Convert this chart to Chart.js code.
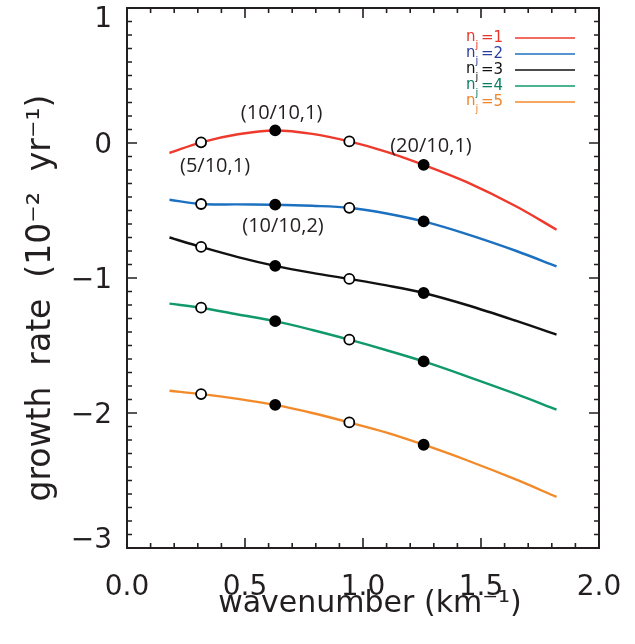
<!DOCTYPE html>
<html>
<head>
<meta charset="utf-8">
<script src="https://cdn.jsdelivr.net/npm/chart.js@4"></script>
<style>
  body { margin: 0; background: #fff; }
  canvas { display: block; }
</style>
</head>
<body>
<canvas id="myChart" width="635" height="644"></canvas>
<script>
// wavenumber samples (km^-1)
var wavenumber = [0.18, 0.314, 0.47, 0.628, 0.785, 0.942, 1.10, 1.257, 1.44, 1.65, 1.82];

// growth rate (10^-2 yr^-1) for each n_j
var growthN1 = [-0.074, 0.005, 0.065, 0.093, 0.068, 0.012, -0.065, -0.162, -0.29, -0.47, -0.642];
var growthN2 = [-0.42, -0.452, -0.455, -0.457, -0.465, -0.48, -0.522, -0.581, -0.675, -0.80, -0.914];
var growthN3 = [-0.70, -0.77, -0.845, -0.91, -0.962, -1.007, -1.055, -1.111, -1.20, -1.318, -1.42];
var growthN4 = [-1.19, -1.22, -1.27, -1.32, -1.385, -1.457, -1.535, -1.618, -1.728, -1.86, -1.975];
var growthN5 = [-1.835, -1.86, -1.895, -1.94, -2.0, -2.07, -2.145, -2.235, -2.35, -2.494, -2.622];

var seriesNames = ['n=1', 'n=2', 'n=3', 'n=4', 'n=5'];
var legendDigits = ['1', '2', '3', '4', '5'];

// marker wavenumbers
var openMarkers = [0.314, 0.942];
var filledMarkers = [0.628, 1.257];

// annotations
var noteLabels = ['(5/10,1)', '(10/10,1)', '(10/10,2)', '(20/10,1)'];
var noteX = [0.373, 0.655, 0.661, 1.288];
var noteY = [-0.17, 0.222, -0.618, -0.027];

var xTicks = [0.0, 0.5, 1.0, 1.5, 2.0];
var yTicks = [-3, -2, -1, 0, 1];

var xTitle = 'wavenumber (km\u207B\u00B9)';
var yTitle = 'growth  rate  (10\u207B\u00B2  yr\u207B\u00B9)';

var lineColors = ['#ee3a2c', '#1c70c0', '#111111', '#10996b', '#f28a2a'];
var legendTextColors = ['#e8352b', '#2b3f9c', '#111111', '#0b7f64', '#f0862a'];
var axisColor = '#231f20';

function isNear(list, v) {
    for (var i = 0; i < list.length; i++) {
        if (Math.abs(list[i] - v) < 0.005) return true;
    }
    return false;
}

function toPoints(values) {
    return wavenumber.map(function (k, i) { return { x: k, y: values[i] }; });
}

var allSeries = [growthN1, growthN2, growthN3, growthN4, growthN5];

var datasets = allSeries.map(function (values, i) {
    return {
        label: seriesNames[i],
        data: toPoints(values),
        borderColor: lineColors[i],
        borderWidth: 2.4,
        tension: 0.35,
        pointRadius: function (c) {
            var x = c.raw ? c.raw.x : 0;
            return (isNear(openMarkers, x) || isNear(filledMarkers, x)) ? 5 : 0;
        },
        pointBorderColor: '#000',
        pointBorderWidth: 1.8,
        pointBackgroundColor: function (c) {
            var x = c.raw ? c.raw.x : 0;
            return isNear(filledMarkers, x) ? '#000' : '#fff';
        },
        fill: false
    };
});

function yLabel(v) {
    return v < 0 ? '\u2212' + Math.abs(v) : String(v);
}

// frame with inward ticks, y labels, titles, notes and legend
var framePlugin = {
    id: 'frame',
    afterDraw: function (chart) {
        var ctx = chart.ctx;
        var a = chart.chartArea;
        var xs = chart.scales.x;
        var ys = chart.scales.y;
        ctx.save();
        ctx.strokeStyle = axisColor;
        ctx.lineWidth = 2;
        ctx.strokeRect(a.left, a.top, a.right - a.left, a.bottom - a.top);
        ctx.lineWidth = 1.6;
        ctx.beginPath();
        for (var i = 0; i <= 20; i++) {
            var px = xs.getPixelForValue(i / 10);
            var len = (i % 5 === 0) ? 10 : 5;
            ctx.moveTo(px, a.bottom); ctx.lineTo(px, a.bottom - len);
            ctx.moveTo(px, a.top); ctx.lineTo(px, a.top + len);
        }
        for (var j = -30; j <= 10; j++) {
            var py = ys.getPixelForValue(j / 10);
            var l2 = (j % 10 === 0) ? 10 : 5;
            ctx.moveTo(a.left, py); ctx.lineTo(a.left + l2, py);
            ctx.moveTo(a.right, py); ctx.lineTo(a.right - l2, py);
        }
        ctx.stroke();

        // y tick labels (kept inside the frame height like the original)
        ctx.fillStyle = axisColor;
        ctx.font = '28px "DejaVu Sans"';
        ctx.textAlign = 'right';
        ctx.textBaseline = 'middle';
        yTicks.forEach(function (v) {
            var ty = ys.getPixelForValue(v) + 3;
            ty = Math.min(Math.max(ty, a.top + 12), a.bottom - 7);
            ctx.fillText(yLabel(v), a.left - 15, ty);
        });

        // axis titles
        ctx.textAlign = 'center';
        ctx.textBaseline = 'alphabetic';
        ctx.font = '30px "DejaVu Sans"';
        ctx.fillText(xTitle, (a.left + a.right) / 2 + 7, 612);
        ctx.save();
        ctx.translate(50, (a.top + a.bottom) / 2 + 20);
        ctx.rotate(-Math.PI / 2);
        ctx.font = '33px "DejaVu Sans"';
        ctx.fillText(yTitle, 0, 0);
        ctx.restore();

        // point annotations
        ctx.fillStyle = '#231f20';
        ctx.font = '20px "Open Sans"';
        ctx.textAlign = 'center';
        ctx.textBaseline = 'middle';
        noteLabels.forEach(function (t, k) {
            ctx.fillText(t, xs.getPixelForValue(noteX[k]), ys.getPixelForValue(noteY[k]));
        });

        // legend, top right
        ctx.textAlign = 'left';
        for (var s = 0; s < seriesNames.length; s++) {
            var ly = 38 + s * 16;
            ctx.fillStyle = legendTextColors[s];
            ctx.font = '15px "DejaVu Sans"';
            ctx.fillText('n', 466, ly - 1);
            ctx.font = '10px "DejaVu Sans"';
            ctx.fillText('j', 475.5, ly + 7);
            ctx.font = '15px "DejaVu Sans"';
            ctx.fillText('=' + legendDigits[s], 481, ly);
            ctx.strokeStyle = lineColors[s];
            ctx.lineWidth = 1.5;
            ctx.beginPath();
            ctx.moveTo(515, ly);
            ctx.lineTo(575, ly);
            ctx.stroke();
        }
        ctx.restore();
    }
};

document.addEventListener('DOMContentLoaded', function () {
    var ctx = document.getElementById('myChart').getContext('2d');

    var myChart = new Chart(ctx, {
        type: 'line',
        data: { datasets: datasets },
        options: {
            responsive: false,
            animation: false,
            devicePixelRatio: 1,
            layout: { padding: { top: 8, right: 36, bottom: 0, left: 0 } },
            plugins: {
                legend: { display: false },
                tooltip: { enabled: false }
            },
            scales: {
                x: {
                    type: 'linear',
                    min: 0,
                    max: 2,
                    afterBuildTicks: function (scale) {
                        scale.ticks = xTicks.map(function (v) { return { value: v }; });
                    },
                    afterFit: function (scale) {
                        scale.height = 96;
                        scale.paddingLeft = 0;
                        scale.paddingRight = 0;
                    },
                    grid: { display: false, drawTicks: false },
                    border: { display: false },
                    ticks: {
                        padding: 23,
                        color: axisColor,
                        font: { family: 'DejaVu Sans', size: 28 },
                        maxRotation: 0,
                        callback: function (v) { return Number(v).toFixed(1); }
                    }
                },
                y: {
                    type: 'linear',
                    min: -3,
                    max: 1,
                    afterBuildTicks: function (scale) {
                        scale.ticks = yTicks.map(function (v) { return { value: v }; });
                    },
                    afterFit: function (scale) {
                        scale.width = 127;
                        scale.paddingTop = 0;
                        scale.paddingBottom = 0;
                    },
                    grid: { display: false, drawTicks: false },
                    border: { display: false },
                    ticks: { display: false }
                }
            }
        },
        plugins: [framePlugin]
    });
});
</script>
</body>
</html>
